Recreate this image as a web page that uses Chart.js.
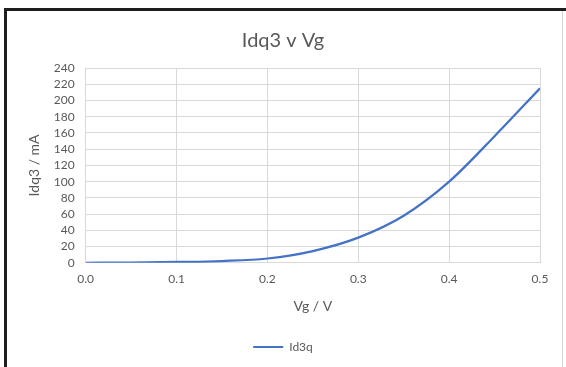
<!DOCTYPE html>
<html>
<head>
<meta charset="utf-8">
<script src="https://cdn.jsdelivr.net/npm/chart.js@4/dist/chart.umd.min.js"></script>
<style>
  html, body { margin: 0; padding: 0; background: #fff; }
  #wrap { position: relative; width: 566px; height: 367px; overflow: hidden; }
  #chart { position: absolute; left: 0; top: 0; }
  .frame-top { position: absolute; left: 4px; top: 8px; width: 562px; height: 3px; background: #1e1e1e; }
  .frame-left { position: absolute; left: 4px; top: 8px; width: 3px; height: 359px; background: #1e1e1e; }
  .frame-right { position: absolute; left: 562px; top: 11px; width: 1px; height: 356px; background: #d4d4d4; }
</style>
</head>
<body>
<div id="wrap">
  <canvas id="chart" width="566" height="367"></canvas>
  <div class="frame-top"></div>
  <div class="frame-left"></div>
  <div class="frame-right"></div>
</div>
<script>
// gate voltage (V) and drain current (mA)
const vgValues = [0, 0.05, 0.1, 0.15, 0.2, 0.25, 0.3, 0.35, 0.4, 0.45, 0.5];
const idValues = [0, 0.3, 1, 2.2, 5.3, 14.5, 31, 58, 100, 156, 215];
const seriesName = 'Id3q';

const textGrey = '#595959';
const gridGrey = '#d9d9d9';
const lineBlue = '#4472c4';
const fontFamily = 'Lato, "Open Sans", sans-serif';

const points = vgValues.map((v, i) => ({ x: v, y: idValues[i] }));

new Chart(document.getElementById('chart'), {
    type: 'line',
    data: {
        datasets: [{
            label: seriesName,
            data: points,
            borderColor: lineBlue,
            backgroundColor: lineBlue,
            borderWidth: 2.25,
            pointRadius: 0,
            cubicInterpolationMode: 'monotone',
            fill: false
        }]
    },
    options: {
        responsive: false,
        animation: false,
        layout: { padding: { left: 26, right: 26, top: 17, bottom: 4 } },
        plugins: {
            title: {
                display: true,
                text: 'Idq3 v Vg',
                color: textGrey,
                font: { family: fontFamily, size: 20, weight: 'normal' },
                padding: { top: 12, bottom: 15 }
            },
            legend: {
                position: 'bottom',
                labels: {
                    color: textGrey,
                    font: { family: fontFamily, size: 12 },
                    boxWidth: 30,
                    boxHeight: 2,
                    padding: 10,
                    // flat line swatch, no stroke around it
                    generateLabels: chart => chart.data.datasets.map((ds, i) => ({
                        text: ds.label,
                        fillStyle: ds.borderColor,
                        strokeStyle: ds.borderColor,
                        lineWidth: 0,
                        fontColor: textGrey,
                        hidden: false,
                        datasetIndex: i
                    }))
                }
            },
            tooltip: { enabled: false }
        },
        scales: {
            x: {
                type: 'linear',
                min: 0,
                max: 0.5,
                ticks: {
                    stepSize: 0.1,
                    color: textGrey,
                    font: { family: fontFamily, size: 12 },
                    padding: 9,
                    callback: v => v.toFixed(1)
                },
                grid: { color: gridGrey, lineWidth: 1, drawTicks: false },
                border: { color: gridGrey },
                title: {
                    display: true,
                    text: 'Vg / V',
                    color: textGrey,
                    font: { family: fontFamily, size: 14 },
                    padding: { top: 3, bottom: 16 }
                }
            },
            y: {
                min: 0,
                max: 240,
                ticks: {
                    stepSize: 20,
                    autoSkip: false,
                    color: textGrey,
                    font: { family: fontFamily, size: 12 },
                    padding: 11
                },
                grid: { color: gridGrey, lineWidth: 1, drawTicks: false },
                border: { color: gridGrey },
                title: {
                    display: true,
                    text: 'Idq3 / mA',
                    color: textGrey,
                    font: { family: fontFamily, size: 14 },
                    padding: { top: 0, bottom: 0 }
                }
            }
        }
    }
});
</script>
</body>
</html>
